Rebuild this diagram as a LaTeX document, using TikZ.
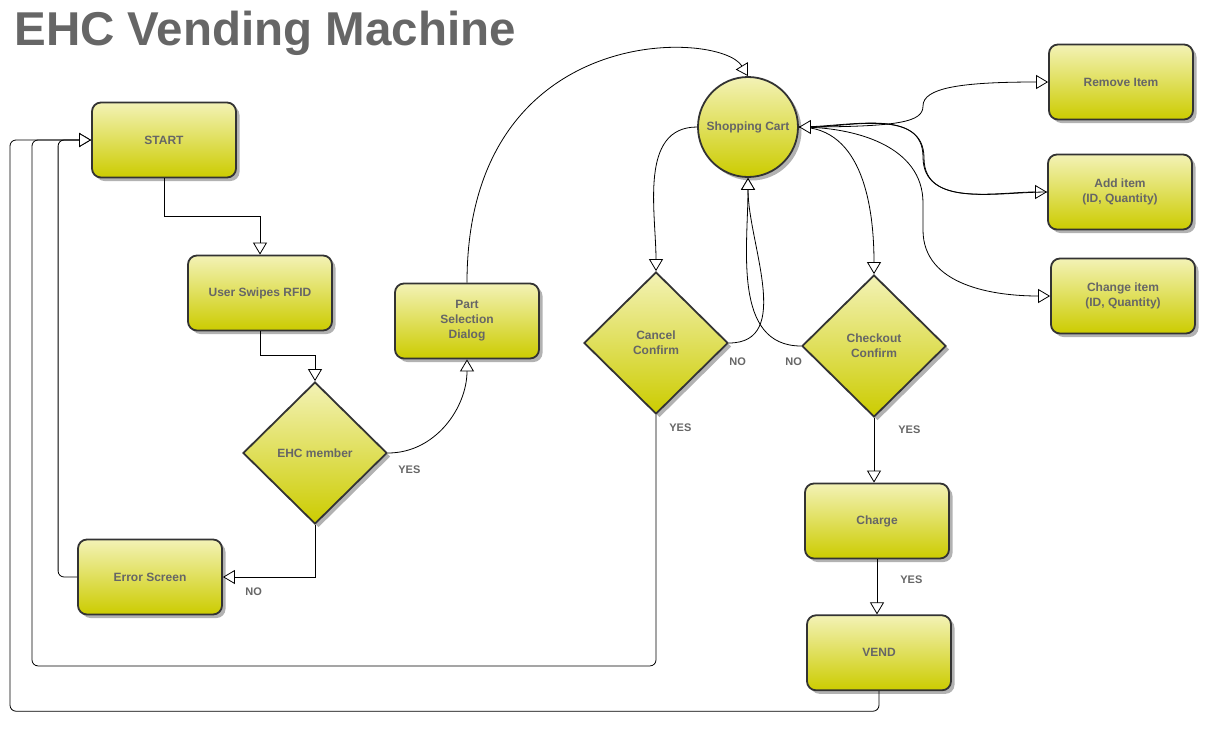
\documentclass[tikz,border=0pt]{standalone}
\usepackage{fontspec}
\setmainfont{Liberation Sans}
\usetikzlibrary{arrows.meta}
\usetikzlibrary{positioning}
\usetikzlibrary{shapes.geometric}
\usetikzlibrary{shadows}
\definecolor{boxtop}{RGB}{243,242,182}
\definecolor{boxbot}{RGB}{204,204,0}
\definecolor{boxline}{RGB}{51,51,51}
\definecolor{boxtext}{RGB}{102,102,102}
\tikzstyle{boxbase} = [draw=boxline, line width=1.8pt, top color=boxtop, bottom color=boxbot, text=boxtext, font=\bfseries\fontsize{12}{15}\selectfont, align=center, general shadow={fill=black!30, shadow xshift=3.5pt, shadow yshift=-3.5pt}]
\tikzstyle{stepnode} = [boxbase, rectangle, rounded corners=9pt, minimum width=144pt, minimum height=75pt]
\tikzstyle{decnode} = [boxbase, diamond, minimum width=144pt, minimum height=142pt, inner sep=0pt]
\tikzstyle{cartnode} = [boxbase, circle, minimum size=100pt, inner sep=0pt]
\tikzstyle{answer} = [text=boxtext, font=\bfseries\fontsize{11}{13}\selectfont, anchor=west, inner sep=0pt]

\begin{document}
\begin{tikzpicture}[x=1pt, y=1pt, line width=0.8pt, >={Triangle[length=12pt, width=14pt, fill=white]}]
  \useasboundingbox (0,0) rectangle (1211,-729);
  \node[anchor=base west, inner sep=0pt, text=boxtext, font=\bfseries\fontsize{47.5}{50}\selectfont] (title) at (14,-45) {EHC Vending Machine};

  \node[stepnode] (start) at (164,-140) {START};
  \node[stepnode] (rfid) at (260,-293) {User Swipes RFID};
  \node[decnode] (member) at (315,-453) {EHC member};
  \node[stepnode] (error) at (150,-577) {Error Screen};
  \node[stepnode] (part) at (467,-321) {Part\\Selection\\Dialog};
  \node[cartnode] (cart) at (748,-127) {Shopping Cart};
  \node[decnode] (cancel) at (656,-343) {Cancel\\Confirm};
  \node[decnode] (checkout) at (874,-346) {Checkout\\Confirm};
  \node[stepnode] (charge) at (877,-521) {Charge};
  \node[stepnode, below=55pt of charge, xshift=2pt] (vend) {VEND};
  \node[stepnode] (remove) at (1121,-82) {Remove Item};
  \node[stepnode] (add) at (1120,-192) {Add item\\(ID, Quantity)};
  \node[stepnode] (change) at (1123,-296) {Change item\\(ID, Quantity)};

  \node[answer] (yesmember) at (398,-470) {YES};
  \node[answer] (nomember) at (245,-592) {NO};
  \node[answer] (nocancel) at (729,-362) {NO};
  \node[answer] (yescancel) at (669,-428) {YES};
  \node[answer] (nocheckout) at (785,-362) {NO};
  \node[answer] (yescheckout) at (898,-430) {YES};
  \node[answer] (yescharge) at (900,-580) {YES};

  % bends of the curved edges on the right
  \coordinate (bendremove) at (923,-106);
  \coordinate (bendadd) at (923,-157);
  \coordinate (bendaddb) at (924,-158);
  \coordinate (bendchange) at (923,-203);
  \coordinate (bendchangeb) at (923,-230);

  \draw[->] (start.south) -- ++(0,-38) -| (rfid.north);
  \draw[->] (rfid.south) -- ++(0,-24) -| (member.north);
  \draw[->] (member.east) to[out=0,in=-90] (part.south);
  \draw[->] (member.south) |- (error.east);
  \draw[->, rounded corners=6pt] (error.west) -- ++(-19,0) |- (start.west);
  \draw[->] (part.north) .. controls (467,-20) and (720,-30) .. (cart.north);
  \draw[->] (cart.west) to[out=180,in=90] (cancel.north);
  \draw[->] (cancel.east) to[out=0,in=-90] (cart.south);
  \draw[->, rounded corners=6pt] (cancel.south) |- ++(-624,-251) |- (start.west);
  \draw[->] (checkout.west) to[out=180,in=-90] (cart.south);
  \draw[->] (cart.east) to[out=0,in=90] (checkout.north);
  \draw[->] (checkout.south) -- (checkout.south |- charge.north);
  \draw[->] (charge.south) -- (charge.south |- vend.north);
  \draw[->, rounded corners=6pt] (vend.south) |- ++(-869,-20) |- (start.west);
  \draw[->] (cart.east) .. controls (900,-127) and (923,-122) .. (bendremove) .. controls (923,-88) and (960,-82) .. (remove.west);
  \draw[->] (cart.east) to[out=0,in=90] (bendchange) -- (bendchangeb) to[out=-90,in=180] (change.west);
  \draw[->] (cart.east) to[out=0,in=90] (bendadd) to[out=-90,in=180] (add.west);
  \draw[->] (add.west) to[out=180,in=-90] (bendaddb) to[out=90,in=0] (cart.east);
\end{tikzpicture}
\end{document}
